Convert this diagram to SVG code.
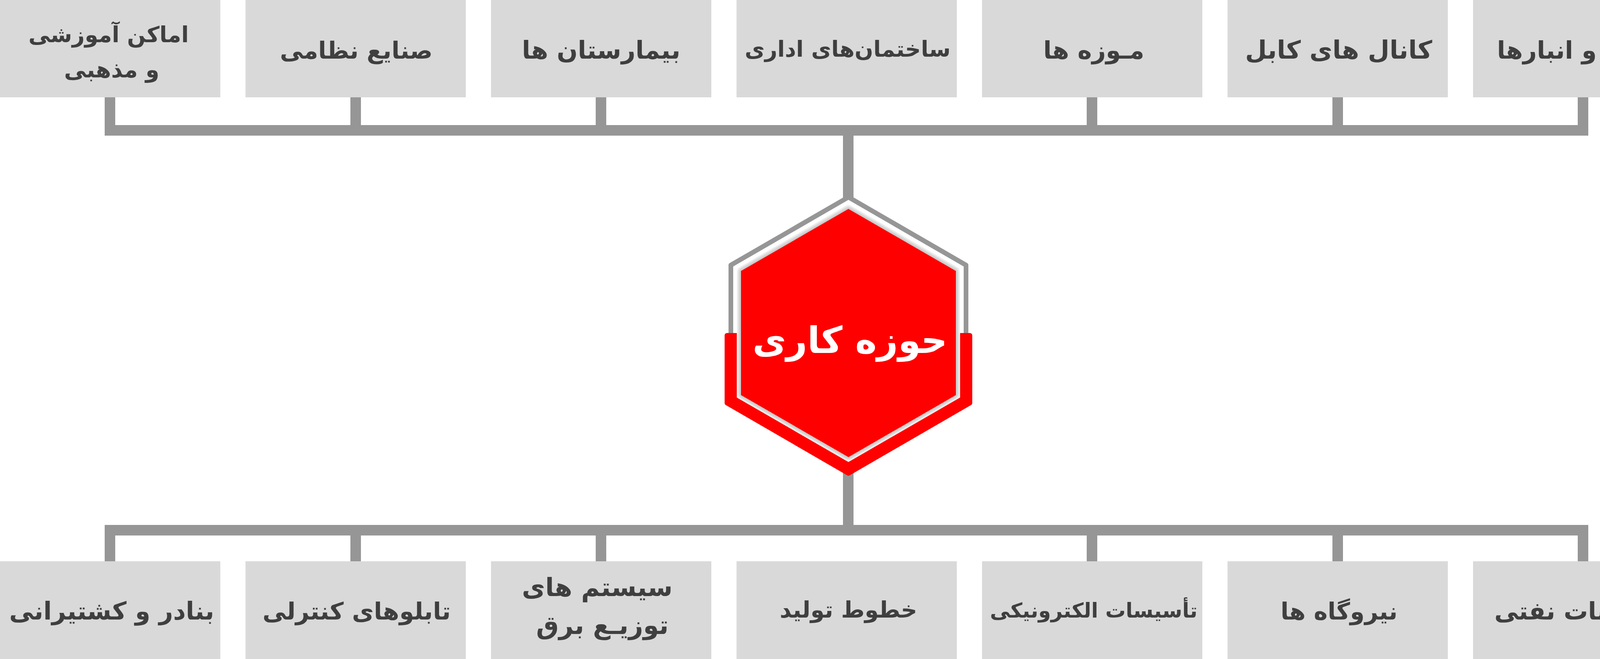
<svg xmlns="http://www.w3.org/2000/svg" width="4334" height="1686" viewBox="0 0 4334 1686">
  <defs>
    <style>
      .box { fill: #d9d9d9; }
      .lbl { font-family: "DejaVu Sans", "Noto Sans", sans-serif; font-weight: bold; fill: #3f3f3f; text-anchor: middle; font-size: 60px; }
      .conn { fill: #969696; }
      .title { font-family: "DejaVu Sans", "Noto Sans", sans-serif; font-weight: bold; fill: #ffffff; text-anchor: middle; font-size: 94px; }
    </style>
    <filter id="soft" x="-20%" y="-20%" width="140%" height="140%">
      <feGaussianBlur stdDeviation="5"/>
    </filter>
    <clipPath id="whiteClip">
      <polygon points="2172,522 2457.8,687 2457.8,1017 2172,1182 1886.2,1017 1886.2,687"/>
    </clipPath>
  </defs>
  <rect x="0" y="0" width="4334" height="1686" fill="#ffffff"/>

  <g id="connectors">
    <rect class="conn" x="2158" y="320" width="27" height="1050"/>
    <rect class="conn" x="268" y="320" width="3798" height="27"/>
    <rect class="conn" x="268" y="1343" width="3798" height="27"/>
    <rect class="conn" x="268" y="249" width="27" height="80"/>
    <rect class="conn" x="897" y="249" width="27" height="80"/>
    <rect class="conn" x="1525" y="249" width="27" height="80"/>
    <rect class="conn" x="2782" y="249" width="27" height="80"/>
    <rect class="conn" x="3411" y="249" width="27" height="80"/>
    <rect class="conn" x="4039" y="249" width="27" height="80"/>
    <rect class="conn" x="268" y="1360" width="27" height="76"/>
    <rect class="conn" x="897" y="1360" width="27" height="76"/>
    <rect class="conn" x="1525" y="1360" width="27" height="76"/>
    <rect class="conn" x="2782" y="1360" width="27" height="76"/>
    <rect class="conn" x="3411" y="1360" width="27" height="76"/>
    <rect class="conn" x="4039" y="1360" width="27" height="76"/>
  </g>

  <g id="top-0">
    <rect class="box" x="0" y="0" width="564" height="249"/>
    <text class="lbl" x="278" y="108" style="font-size:56px">اماکن آموزشی</text>
    <text class="lbl" x="286" y="198" style="font-size:57px">و مذهبی</text>
  </g>
  <g id="top-1">
    <rect class="box" x="628.5" y="0" width="564" height="249"/>
    <text class="lbl" x="912" y="150">صنایع نظامی</text>
  </g>
  <g id="top-2">
    <rect class="box" x="1257" y="0" width="564" height="249"/>
    <text class="lbl" x="1539" y="150" style="font-size:63px">بیمارستان ها</text>
  </g>
  <g id="top-3">
    <rect class="box" x="1885.5" y="0" width="564" height="249"/>
    <text class="lbl" x="2170" y="145" style="font-size:56px">ساختمان&#8204;های اداری</text>
  </g>
  <g id="top-4">
    <rect class="box" x="2514" y="0" width="564" height="249"/>
    <text class="lbl" x="2800" y="150" style="font-size:62px">مـوزه ها</text>
  </g>
  <g id="top-5">
    <rect class="box" x="3142.5" y="0" width="564" height="249"/>
    <text class="lbl" x="3427" y="150" style="font-size:64px">کانال های کابل</text>
  </g>
  <g id="top-6">
    <rect class="box" x="3771" y="0" width="564" height="249"/>
    <text class="lbl" x="4051" y="150" style="font-size:62px">سوله و انبارها</text>
  </g>

  <g id="bottom-0">
    <rect class="box" x="0" y="1436" width="564" height="250"/>
    <text class="lbl" x="286" y="1585" style="font-size:63px">بنادر و کشتیرانی</text>
  </g>
  <g id="bottom-1">
    <rect class="box" x="628.5" y="1436" width="564" height="250"/>
    <text class="lbl" x="913" y="1585" style="font-size:61px">تابلوهای کنترلی</text>
  </g>
  <g id="bottom-2">
    <rect class="box" x="1257" y="1436" width="564" height="250"/>
    <text class="lbl" x="1529" y="1525" style="font-size:65px">سیستم های</text>
    <text class="lbl" x="1542" y="1622" style="font-size:65px">توزیـع برق</text>
  </g>
  <g id="bottom-3">
    <rect class="box" x="1885.5" y="1436" width="564" height="250"/>
    <text class="lbl" x="2172" y="1580" style="font-size:58px">خطوط تولید</text>
  </g>
  <g id="bottom-4">
    <rect class="box" x="2514" y="1436" width="564" height="250"/>
    <text class="lbl" x="2800" y="1580" style="font-size:52px">تأسیسات الکترونیکی</text>
  </g>
  <g id="bottom-5">
    <rect class="box" x="3142.5" y="1436" width="564" height="250"/>
    <text class="lbl" x="3428" y="1585">نیروگاه ها</text>
  </g>
  <g id="bottom-6">
    <rect class="box" x="3771" y="1436" width="564" height="250"/>
    <text class="lbl" x="4055" y="1585" style="font-size:62px">تأسیسات نفتی</text>
  </g>

  <g id="center">
    <polygon points="2172,504.4 2473,678.2 2473,1025.8 2172,1199.6 1871,1025.8 1871,678.2" fill="#ffffff" stroke="#969696" stroke-width="12" stroke-linejoin="round"/>
    <polygon points="1861,858 1861,1031 2172,1211 2483,1031 2483,858" fill="#ff0000" stroke="#ff0000" stroke-width="12" stroke-linejoin="round"/>
    <polygon points="2172,522 2457.8,687 2457.8,1017 2172,1182 1886.2,1017 1886.2,687" fill="#ffffff"/>
    <g clip-path="url(#whiteClip)">
      <polygon points="2172,534.5 2447,693.25 2447,1010.75 2172,1169.5 1897,1010.75 1897,693.25" fill="none" stroke="#bdbdbd" stroke-width="12" filter="url(#soft)"/>
    </g>
    <polygon points="2172,534.5 2447,693.25 2447,1010.75 2172,1169.5 1897,1010.75 1897,693.25" fill="#ff0000"/>
    <text class="title" x="2176" y="903">حوزه کاری</text>
  </g>
</svg>
